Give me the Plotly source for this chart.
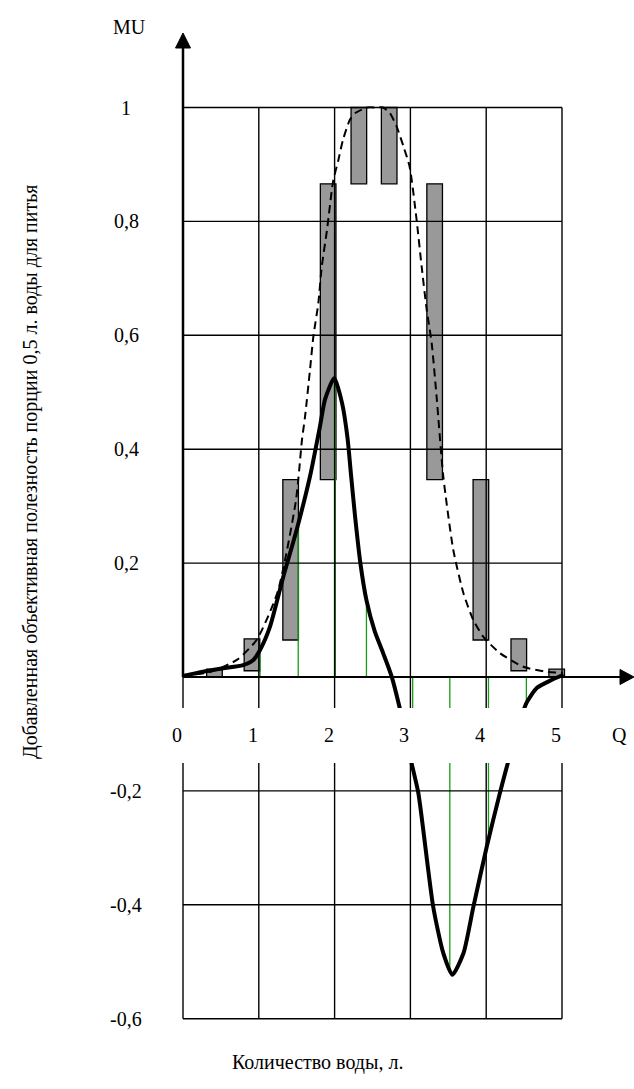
import plotly.graph_objects as go

# ---------------- data ----------------
bar_q = [0.415, 0.91, 1.42, 1.915, 2.32, 2.72, 3.32, 3.93, 4.43, 4.93]
bar_low = [0.0, 0.011, 0.065, 0.3465, 0.866, 0.866, 0.3465, 0.065, 0.011, 0.0]
bar_high = [0.014, 0.067, 0.3465, 0.866, 1.0, 1.0, 0.866, 0.3465, 0.067, 0.014]

dash_q = [0, 0.36, 0.71, 0.97, 1.25, 1.49, 1.57, 1.61, 1.675, 1.72, 1.785, 1.83,
          1.90, 1.98, 2.05, 2.11, 2.20, 2.27, 2.43, 2.55, 2.64, 2.73, 2.82, 2.91,
          2.99, 3.08, 3.149, 3.215, 3.281, 3.347, 3.434, 3.566, 3.70, 3.83, 3.96,
          4.18, 4.49, 4.80, 5.01]
dash_mu = [0.002, 0.009, 0.030, 0.065, 0.15, 0.31, 0.417, 0.457, 0.539, 0.598, 0.656, 0.72,
           0.785, 0.87, 0.908, 0.943, 0.978, 0.99, 1.0, 1.0, 1.0, 0.99, 0.966, 0.931,
           0.896, 0.805, 0.72, 0.645, 0.586, 0.49, 0.352, 0.223, 0.147, 0.10, 0.071,
           0.042, 0.018, 0.009, 0.0076]

solid_q = [0, 0.264, 0.528, 0.792, 0.928, 1.016, 1.148, 1.323, 1.5, 1.675, 1.807, 1.873,
           1.996, 2.10, 2.17, 2.22, 2.27, 2.34, 2.42, 2.53, 2.64, 2.75, 2.86, 3.017, 3.105,
           3.30, 3.434, 3.553, 3.70, 3.83, 4.007, 4.18, 4.36, 4.53, 4.67, 4.85, 5.02]
solid_mu = [0.002, 0.0093, 0.0153, 0.021, 0.030, 0.0475, 0.0885, 0.176, 0.2586, 0.352, 0.44, 0.487,
            0.525, 0.48, 0.42, 0.35, 0.282, 0.20, 0.135, 0.08, 0.042, 0.002, -0.055, -0.152, -0.204,
            -0.403, -0.485, -0.523, -0.485, -0.404, -0.298, -0.204, -0.116, -0.046, -0.019, -0.006, 0.004]

green_q = [1.016, 1.52, 2.01, 2.42, 3.03, 3.52, 4.03, 4.53]
green_mu = [0.046, 0.267, 0.52, 0.135, -0.16, -0.52, -0.28, -0.046]

x_tick_vals = [0, 1, 2, 3, 4, 5]
x_tick_text = ["0", "1", "2", "3", "4", "5"]
y_tick_vals = [1.0, 0.8, 0.6, 0.4, 0.2, -0.2, -0.4, -0.6]
y_tick_text = ["1", "0,8", "0,6", "0,4", "0,2", "-0,2", "-0,4", "-0,6"]
x_axis_name = "Q"
y_axis_name = "MU"
x_title = "Количество воды, л."
y_title = "Добавленная объективная полезность порции 0,5 л. воды для питья"

# ---------------- geometry ----------------
W, H = 634, 1089
PX0, PY0 = 183.0, 677.0     # pixel of data origin
SX, SY = 75.8, 569.5        # pixels per data unit


def px2x(px):
    return (px - PX0) / SX


def py2y(py):
    return (PY0 - py) / SY


FONT = "Liberation Serif, Times New Roman, serif"
FS = 20

fig = go.Figure()

fig.add_trace(go.Bar(
    x=bar_q, y=[h - l for h, l in zip(bar_high, bar_low)], base=bar_low,
    width=0.206, marker=dict(color="#999999", line=dict(color="black", width=1.3)),
    hoverinfo="skip"))

gx, gy = [], []
for q, m in zip(green_q, green_mu):
    gx += [q, q, None]
    gy += [0, m, None]
fig.add_trace(go.Scatter(x=gx, y=gy, mode="lines",
                         line=dict(color="#1a9a1a", width=1.3), hoverinfo="skip"))

fig.add_trace(go.Scatter(x=dash_q, y=dash_mu, mode="lines",
                         line=dict(color="black", width=2, dash="8px,5px", shape="spline", smoothing=0.6),
                         hoverinfo="skip"))

fig.add_trace(go.Scatter(x=solid_q, y=solid_mu, mode="lines",
                         line=dict(color="black", width=4, shape="spline", smoothing=0.6),
                         hoverinfo="skip"))

shapes = []
xmin, xmax = x_tick_vals[0], x_tick_vals[-1]
ymin, ymax = min(y_tick_vals), max(y_tick_vals)
# horizontal grid lines
for v in y_tick_vals:
    shapes.append(dict(type="line", xref="x", yref="y", x0=xmin, x1=xmax, y0=v, y1=v,
                       line=dict(color="black", width=1.4), layer="above"))
# vertical grid lines
for v in x_tick_vals:
    top = 0 if v == 0 else ymax
    shapes.append(dict(type="line", xref="x", yref="y", x0=v, x1=v, y0=ymin, y1=top,
                       line=dict(color="black", width=1.4), layer="above"))
# white band behind x tick labels
shapes.append(dict(type="rect", xref="x", yref="y", x0=px2x(140), x1=px2x(600),
                   y0=py2y(763), y1=py2y(708), fillcolor="white", line=dict(width=0),
                   layer="above"))
# x axis with arrow
shapes.append(dict(type="line", xref="x", yref="y", x0=0, x1=px2x(621), y0=0, y1=0,
                   line=dict(color="black", width=2.2), layer="above"))
shapes.append(dict(type="path", xref="x", yref="y",
                   path=f"M {px2x(620)} {py2y(669.5)} L {px2x(634)} 0 L {px2x(620)} {py2y(684.5)} Z",
                   fillcolor="black", line=dict(color="black", width=1), layer="above"))
# y axis with arrow
shapes.append(dict(type="line", xref="x", yref="y", x0=0, x1=0, y0=0, y1=py2y(47),
                   line=dict(color="black", width=2.5), layer="above"))
shapes.append(dict(type="path", xref="x", yref="y",
                   path=f"M {px2x(175.5)} {py2y(48)} L 0 {py2y(33)} L {px2x(190.5)} {py2y(48)} Z",
                   fillcolor="black", line=dict(color="black", width=1), layer="above"))

ann = []
font = dict(family=FONT, size=FS, color="black")
for v, t in zip(x_tick_vals, x_tick_text):
    ann.append(dict(x=v - 0.08, y=py2y(735), xref="x", yref="y", text=t, showarrow=False,
                    font=font, xanchor="center", yanchor="middle"))
ann.append(dict(x=px2x(619), y=py2y(735), xref="x", yref="y", text=x_axis_name, showarrow=False,
                font=font, xanchor="center", yanchor="middle"))
for v, t in zip(y_tick_vals, y_tick_text):
    ann.append(dict(x=px2x(126), y=v, xref="x", yref="y", text=t, showarrow=False,
                    font=font, xanchor="center", yanchor="middle"))
ann.append(dict(x=px2x(129), y=py2y(27), xref="x", yref="y", text=y_axis_name, showarrow=False,
                font=font, xanchor="center", yanchor="middle"))
ann.append(dict(x=px2x(317), y=py2y(1062), xref="x", yref="y", text=x_title, showarrow=False,
                font=font, xanchor="center", yanchor="middle"))
ann.append(dict(x=px2x(30), y=py2y(472), xref="x", yref="y", text=y_title, showarrow=False,
                font=font, textangle=-90, xanchor="center", yanchor="middle"))

fig.update_layout(
    width=W, height=H, autosize=False,
    margin=dict(l=0, r=0, t=0, b=0, pad=0),
    paper_bgcolor="white", plot_bgcolor="white",
    showlegend=False, barmode="overlay",
    xaxis=dict(range=[px2x(0), px2x(W)], visible=False, fixedrange=True),
    yaxis=dict(range=[py2y(H), py2y(0)], visible=False, fixedrange=True),
    shapes=shapes, annotations=ann,
)

fig.write_html("out.html", config={"displayModeBar": False},
               post_script="document.body.style.margin='0px';")
